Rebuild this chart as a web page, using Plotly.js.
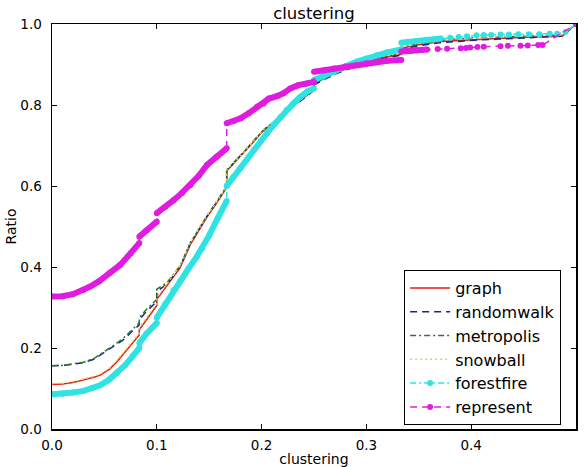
<!DOCTYPE html>
<html>
<head>
<meta charset="utf-8">
<script src="https://cdn.plot.ly/plotly-3.0.1.min.js"></script>
<style>html,body{margin:0;padding:0;background:#fff;}#chart{width:586px;height:467px;}</style>
</head>
<body>
<div id="chart"></div>
<script>
// ---- data (cumulative ratio vs clustering) ----
const seriesNames = ["graph", "randomwalk", "metropolis", "snowball", "forestfire", "represent"];

const graphX = [0, 0.01, 0.02, 0.03, 0.04, 0.046, 0.055, 0.062, 0.07, 0.078, 0.0833, 0.0833, 0.09, 0.1, 0.1, 0.11, 0.122, 0.132, 0.14, 0.148, 0.155, 0.161, 0.1667, 0.1667, 0.175, 0.183, 0.192, 0.202, 0.212, 0.221, 0.23, 0.237, 0.245, 0.25, 0.25, 0.26, 0.269, 0.28, 0.291, 0.3, 0.31, 0.32, 0.331, 0.3333, 0.3333, 0.35, 0.371, 0.39, 0.403, 0.43, 0.451, 0.47, 0.487, 0.5];
const graphY = [0.110, 0.111, 0.115, 0.121, 0.128, 0.133, 0.148, 0.166, 0.19, 0.215, 0.232, 0.245, 0.27, 0.305, 0.32, 0.355, 0.397, 0.455, 0.49, 0.524, 0.55, 0.574, 0.596, 0.637, 0.66, 0.681, 0.708, 0.738, 0.758, 0.779, 0.797, 0.812, 0.828, 0.838, 0.853, 0.866, 0.878, 0.889, 0.899, 0.906, 0.915, 0.919, 0.923, 0.925, 0.94, 0.949, 0.957, 0.96, 0.962, 0.965, 0.967, 0.969, 0.97, 1.0];

const randomwalkX = [0, 0.01, 0.02, 0.03, 0.04, 0.049, 0.058, 0.068, 0.076, 0.0833, 0.0833, 0.09, 0.1, 0.1, 0.11, 0.122, 0.132, 0.14, 0.148, 0.155, 0.161, 0.1667, 0.1667, 0.175, 0.183, 0.192, 0.202, 0.212, 0.221, 0.23, 0.237, 0.245, 0.25, 0.25, 0.26, 0.269, 0.28, 0.291, 0.3, 0.31, 0.32, 0.331, 0.3333, 0.3333, 0.35, 0.371, 0.39, 0.403, 0.43, 0.451, 0.47, 0.487, 0.5];
const randomwalkY = [0.156, 0.157, 0.16, 0.164, 0.172, 0.187, 0.202, 0.22, 0.24, 0.257, 0.27, 0.29, 0.315, 0.34, 0.358, 0.40, 0.458, 0.492, 0.526, 0.552, 0.576, 0.598, 0.638, 0.661, 0.683, 0.71, 0.738, 0.758, 0.779, 0.796, 0.81, 0.826, 0.836, 0.85, 0.863, 0.875, 0.886, 0.896, 0.904, 0.912, 0.917, 0.921, 0.923, 0.937, 0.946, 0.954, 0.958, 0.96, 0.963, 0.966, 0.968, 0.97, 1.0];

const metropolisX = randomwalkX.slice();
const metropolisY = [0.156, 0.157, 0.161, 0.165, 0.174, 0.189, 0.205, 0.224, 0.245, 0.262, 0.275, 0.295, 0.32, 0.345, 0.362, 0.402, 0.46, 0.494, 0.527, 0.553, 0.577, 0.6, 0.64, 0.662, 0.684, 0.711, 0.739, 0.759, 0.78, 0.798, 0.812, 0.828, 0.838, 0.852, 0.866, 0.878, 0.89, 0.9, 0.908, 0.916, 0.921, 0.925, 0.927, 0.942, 0.951, 0.96, 0.963, 0.966, 0.968, 0.97, 0.972, 0.973, 1.0];

const snowballX = graphX.slice();
const snowballY = [0.112, 0.113, 0.117, 0.123, 0.13, 0.136, 0.151, 0.17, 0.194, 0.219, 0.236, 0.25, 0.275, 0.31, 0.325, 0.36, 0.402, 0.46, 0.494, 0.527, 0.553, 0.577, 0.599, 0.64, 0.662, 0.683, 0.71, 0.74, 0.76, 0.781, 0.8, 0.815, 0.832, 0.842, 0.857, 0.87, 0.882, 0.893, 0.903, 0.91, 0.918, 0.923, 0.927, 0.929, 0.945, 0.953, 0.961, 0.964, 0.967, 0.969, 0.971, 0.973, 0.974, 1.0];

const forestfireX = [0, 0.01, 0.02, 0.03, 0.038, 0.046, 0.054, 0.062, 0.07, 0.077, 0.0833, 0.0833, 0.09, 0.1, 0.1, 0.108, 0.116, 0.122, 0.13, 0.138, 0.143, 0.15, 0.158, 0.1667, 0.1667, 0.173, 0.18, 0.186, 0.193, 0.199, 0.205, 0.212, 0.218, 0.224, 0.23, 0.237, 0.244, 0.25, 0.25, 0.26, 0.269, 0.28, 0.291, 0.3, 0.31, 0.32, 0.3333, 0.3333, 0.34, 0.348, 0.356, 0.364, 0.371, 0.38, 0.388, 0.396, 0.405, 0.412, 0.419, 0.428, 0.436, 0.445, 0.455, 0.465, 0.475, 0.482, 0.49, 0.5];
const forestfireY = [0.086, 0.087, 0.09, 0.094, 0.1, 0.108, 0.121, 0.138, 0.158, 0.18, 0.2, 0.212, 0.235, 0.262, 0.275, 0.308, 0.343, 0.364, 0.395, 0.425, 0.445, 0.478, 0.52, 0.563, 0.6, 0.622, 0.644, 0.665, 0.69, 0.71, 0.73, 0.752, 0.77, 0.788, 0.803, 0.82, 0.834, 0.841, 0.862, 0.872, 0.882, 0.895, 0.907, 0.915, 0.923, 0.93, 0.937, 0.954, 0.956, 0.958, 0.96, 0.962, 0.964, 0.966, 0.968, 0.97, 0.972, 0.973, 0.973, 0.974, 0.974, 0.975, 0.975, 0.975, 0.976, 0.976, 0.98, 1.0];

const representX = [0, 0.01, 0.02, 0.03, 0.036, 0.045, 0.055, 0.065, 0.075, 0.0833, 0.0833, 0.09, 0.1, 0.1, 0.108, 0.116, 0.124, 0.132, 0.14, 0.148, 0.157, 0.1667, 0.1667, 0.173, 0.18, 0.188, 0.196, 0.202, 0.207, 0.215, 0.221, 0.2275, 0.235, 0.243, 0.25, 0.25, 0.26, 0.269, 0.28, 0.291, 0.3, 0.31, 0.32, 0.3333, 0.3333, 0.338, 0.343, 0.348, 0.353, 0.358, 0.368, 0.377, 0.39, 0.395, 0.399, 0.406, 0.412, 0.428, 0.435, 0.447, 0.454, 0.464, 0.468, 0.5];
const representY = [0.327, 0.328, 0.333, 0.343, 0.351, 0.365, 0.385, 0.405, 0.434, 0.459, 0.475, 0.49, 0.512, 0.533, 0.548, 0.565, 0.583, 0.602, 0.625, 0.652, 0.672, 0.693, 0.755, 0.76, 0.767, 0.78, 0.796, 0.804, 0.816, 0.822, 0.829, 0.841, 0.849, 0.853, 0.857, 0.882, 0.886, 0.89, 0.895, 0.899, 0.903, 0.907, 0.909, 0.911, 0.932, 0.933, 0.934, 0.935, 0.936, 0.937, 0.938, 0.939, 0.94, 0.941, 0.942, 0.943, 0.944, 0.945, 0.946, 0.946, 0.947, 0.948, 0.948, 1.0];

const xTickVals = [0, 0.1, 0.2, 0.3, 0.4, 0.5];
const yTickVals = [0, 0.2, 0.4, 0.6, 0.8, 1.0];

// ---- helpers ----
// dense part of a marker-heavy series: thick band, broken at vertical jumps
function denseBand(xs, ys, xmax) {
  const ox = [], oy = [];
  for (let i = 0; i < xs.length; i++) {
    if (xs[i] > xmax) break;
    if (i > 0 && xs[i] === xs[i - 1]) { ox.push(null); oy.push(null); }
    ox.push(xs[i]); oy.push(ys[i]);
  }
  return {x: ox, y: oy};
}

const FONT = "DejaVu Sans, Arial, sans-serif";
const cCyan = "#30e2e2", cMag = "#e01ce0";

const ffBand = denseBand(forestfireX, forestfireY, 0.372);
const repBand = denseBand(representX, representY, 0.359);

const traces = [
  {x: graphX, y: graphY, name: seriesNames[0], mode: "lines", line: {color: "#e0201c", width: 1.5}},
  {x: randomwalkX, y: randomwalkY, name: seriesNames[1], mode: "lines", line: {color: "#1c248c", width: 1.5, dash: "7px,5px"}},
  {x: metropolisX, y: metropolisY, name: seriesNames[2], mode: "lines", line: {color: "#2a7a2a", width: 1.5, dash: "6px,3px,2px,3px"}},
  {x: snowballX, y: snowballY, name: seriesNames[3], mode: "lines", line: {color: "#d8d850", width: 1.5, dash: "2px,3px"}},
  {x: ffBand.x, y: ffBand.y, mode: "lines", line: {color: cCyan, width: 6}, showlegend: false, legendgroup: "ff", connectgaps: false, hoverinfo: "skip"},
  {x: forestfireX, y: forestfireY, name: seriesNames[4], legendgroup: "ff", mode: "lines+markers", line: {color: cCyan, width: 1.5, dash: "6px,3px,2px,3px"}, marker: {color: cCyan, size: 6}},
  {x: repBand.x, y: repBand.y, mode: "lines", line: {color: cMag, width: 6}, showlegend: false, legendgroup: "rep", connectgaps: false, hoverinfo: "skip"},
  {x: representX, y: representY, name: seriesNames[5], legendgroup: "rep", mode: "lines+markers", line: {color: cMag, width: 1.5, dash: "7px,5px"}, marker: {color: cMag, size: 6}}
];

const axisCommon = {
  showgrid: false, zeroline: false, showline: true, linecolor: "#000", linewidth: 1.5,
  mirror: "allticks", ticks: "inside", ticklen: 5, tickwidth: 1, tickcolor: "#000",
  tickfont: {family: FONT, size: 13.5, color: "#000"}, tickformat: ".1f"
};

const layout = {
  width: 586, height: 467,
  margin: {l: 52, r: 10, t: 24, b: 38, pad: 0},
  paper_bgcolor: "#fff", plot_bgcolor: "#fff",
  font: {family: FONT, color: "#000"},
  title: {text: "clustering", font: {family: FONT, size: 16.5, color: "#000"}, x: 0.5, xref: "paper", xanchor: "center", y: 1 - 13 / 467, yref: "container", yanchor: "middle"},
  xaxis: Object.assign({}, axisCommon, {range: [0, 0.5], tickvals: xTickVals, ticklabelstandoff: 3,
    title: {text: "clustering", font: {family: FONT, size: 14, color: "#000"}, standoff: 2}}),
  yaxis: Object.assign({}, axisCommon, {range: [0, 1], tickvals: yTickVals, ticklabelstandoff: 6,
    title: {text: "Ratio", font: {family: FONT, size: 14, color: "#000"}, standoff: 0}}),
  showlegend: true,
  legend: {x: 0.672, y: 0.3926, xanchor: "left", yanchor: "top", xref: "paper", yref: "paper",
    bgcolor: "#fff", bordercolor: "#000", borderwidth: 1, font: {family: FONT, size: 16, color: "#000"},
    itemwidth: 40, tracegroupgap: 0}
};

Plotly.newPlot("chart", traces, layout, {displayModeBar: false, staticPlot: true});
</script>
</body>
</html>
